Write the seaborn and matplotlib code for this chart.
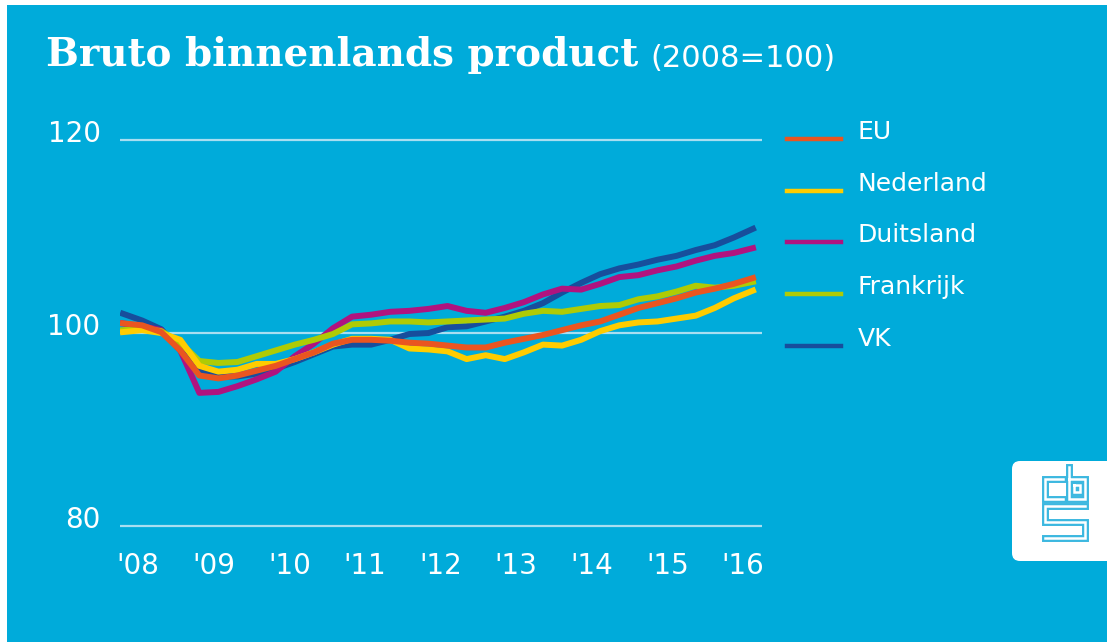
import numpy as np
import pandas as pd
import seaborn as sns
import matplotlib.pyplot as plt
from matplotlib.lines import Line2D
from matplotlib.patches import Rectangle, FancyBboxPatch
from matplotlib.transforms import ScaledTranslation, IdentityTransform

# BBP per kwartaal, 2008K1 t/m 2016K2 (2008=100)
eu = [101.0, 100.8, 100.1, 98.2, 95.6, 95.3, 95.6, 96.1, 96.6, 97.3, 98.0, 98.9,
      99.3, 99.3, 99.2, 99.0, 98.9, 98.7, 98.5, 98.5, 99.0, 99.4, 99.8, 100.3,
      100.8, 101.2, 101.9, 102.6, 103.1, 103.6, 104.2, 104.6, 105.1, 105.7]
nederland = [100.1, 100.3, 100.0, 99.3, 96.6, 96.0, 96.2, 96.8, 96.8, 97.3, 98.0, 98.8,
             99.4, 99.4, 99.3, 98.4, 98.3, 98.1, 97.3, 97.7, 97.3, 98.0, 98.8, 98.7,
             99.3, 100.2, 100.8, 101.1, 101.2, 101.5, 101.8, 102.6, 103.6, 104.4]
duitsland = [101.0, 100.7, 100.3, 98.2, 93.8, 93.9, 94.5, 95.2, 96.0, 97.6, 98.9, 100.5,
             101.7, 101.9, 102.2, 102.3, 102.5, 102.8, 102.3, 102.1, 102.6, 103.2, 104.0, 104.6,
             104.5, 105.1, 105.8, 106.0, 106.5, 106.9, 107.5, 108.0, 108.3, 108.8]
frankrijk = [100.3, 100.5, 100.2, 99.0, 97.1, 96.9, 97.0, 97.6, 98.2, 98.8, 99.3, 99.9,
             100.9, 101.0, 101.2, 101.2, 101.1, 101.2, 101.3, 101.4, 101.5, 102.0, 102.3, 102.2,
             102.5, 102.8, 102.9, 103.5, 103.8, 104.3, 104.9, 104.7, 104.9, 105.3]
vk = [102.0, 101.3, 100.4, 98.2, 96.2, 95.5, 95.5, 95.8, 96.3, 97.0, 97.8, 98.6,
      98.8, 98.8, 99.3, 99.9, 100.0, 100.6, 100.7, 101.2, 101.7, 102.3, 103.1, 104.2,
      105.2, 106.1, 106.7, 107.1, 107.6, 108.0, 108.6, 109.1, 109.9, 110.8]

landen = ['EU', 'Nederland', 'Duitsland', 'Frankrijk', 'VK']
kleuren = ['#EA5520', '#FFCC00', '#B0137F', '#AFCB05', '#174E9C']
jaar_labels = ["'08", "'09", "'10", "'11", "'12", "'13", "'14", "'15", "'16"]
y_ticks = [80, 100, 120]

reeksen = {'EU': eu, 'Nederland': nederland, 'Duitsland': duitsland,
           'Frankrijk': frankrijk, 'VK': vk}
jaar = 2008 + np.arange(len(eu)) / 4
df = pd.DataFrame({'jaar': np.tile(jaar, len(landen)),
                   'land': np.repeat(landen, len(eu)),
                   'bbp': np.concatenate([reeksen[l] for l in landen])})

BG = '#00ABDA'
W, H = 1107, 642


def fx(x):
    return x / W


def fy(y):
    return 1 - y / H


fig = plt.figure(figsize=(W / 100, H / 100), dpi=100, facecolor='white')
fig.patches.append(Rectangle((fx(7), 0), 1 - fx(7), fy(5), transform=fig.transFigure,
                             facecolor=BG, edgecolor='none', zorder=-10))

ax = fig.add_axes([fx(120), fy(530), fx(762) - fx(120), (530 - 130) / H])
ax.set_facecolor('none')

# VK onderop, EU bovenop
volgorde = ['VK', 'Duitsland', 'Frankrijk', 'Nederland', 'EU']
for z, land in enumerate(volgorde):
    sns.lineplot(data=df[df['land'] == land], x='jaar', y='bbp', ax=ax,
                 color=kleuren[landen.index(land)], linewidth=4.3, zorder=3 + z,
                 legend=False)

ax.set_xlim(2007.9607, 2016.3683)
ax.set_ylim(79.59, 121.04)
ax.set_xticks(np.linspace(2008.2, 2016.12, len(jaar_labels)))
ax.set_xticklabels(jaar_labels)
ax.set_yticks(y_ticks)
ax.set_yticklabels([str(v) for v in y_ticks])
ax.set_xlabel('')
ax.set_ylabel('')
for s in ax.spines.values():
    s.set_visible(False)
ax.grid(axis='y', color='#A8DEF1', linewidth=1.6)
ax.grid(axis='x', visible=False)
ax.tick_params(length=0, colors='white', labelsize=20)
ax.tick_params(axis='y', pad=14)
ax.tick_params(axis='x', pad=16)
for lab in ax.get_yticklabels():
    lab.set_transform(lab.get_transform() + ScaledTranslation(0, 9 / 100, fig.dpi_scale_trans))

# titel
fig.text(fx(46), fy(66), 'Bruto binnenlands product', color='white', fontsize=28,
         fontweight='bold', family='DejaVu Serif', va='baseline')
fig.text(fx(650), fy(67), '(2008=100)', color='white', fontsize=22, va='baseline')

# legenda
for k, land in enumerate(landen):
    yb = 139 + k * 51.7
    fig.lines.append(Line2D([fx(787), fx(841)], [fy(yb), fy(yb)], transform=fig.transFigure,
                            color=kleuren[k], linewidth=3.2))
    fig.text(fx(858), fy(yb), land, color='white', fontsize=18, va='baseline')

# cbs logo
fig.patches.append(FancyBboxPatch((1012, H - 561), 120, 100, boxstyle='round,pad=0,rounding_size=8',
                                  transform=IdentityTransform(), facecolor='white',
                                  edgecolor='none'))
logo = [
    [(1063, 479), (1045, 479), (1045, 499), (1063, 499)],
    [(1069, 467), (1069, 499), (1085, 499), (1085, 479), (1069, 479)],
    [(1074, 485), (1080, 485), (1080, 492), (1074, 492), (1074, 485)],
    [(1085, 506), (1045, 506), (1045, 522), (1085, 522), (1085, 538), (1045, 538)],
]
for pad in logo:
    xs = [p[0] for p in pad]
    ys = [H - p[1] for p in pad]
    for lw, c in [(5.0, '#3CB8E0'), (1.8, 'white')]:
        fig.lines.append(Line2D(xs, ys, transform=IdentityTransform(), color=c,
                                linewidth=lw, solid_joinstyle='miter'))

fig.savefig('out.png', dpi=100, facecolor='white')
